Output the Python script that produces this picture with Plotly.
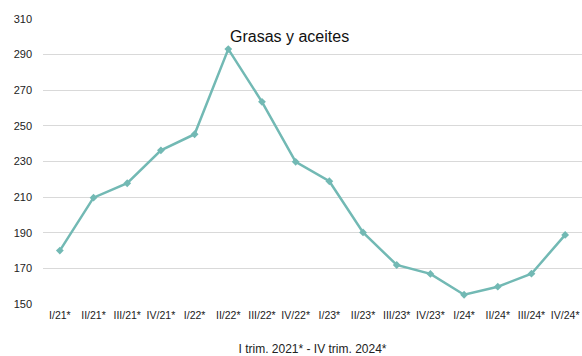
import plotly.graph_objects as go

categories = ["I/21*", "II/21*", "III/21*", "IV/21*", "I/22*", "II/22*", "III/22*", "IV/22*",
              "I/23*", "II/23*", "III/23*", "IV/23*", "I/24*", "II/24*", "III/24*", "IV/24*"]
values = [180.0, 209.7, 217.8, 236.3, 245.3, 293.1, 263.5, 229.8,
          218.9, 190.2, 171.9, 166.9, 155.2, 159.7, 167.0, 188.8]
y_ticks = [150, 170, 190, 210, 230, 250, 270, 290, 310]
chart_title = "Grasas y aceites"
x_title = "I trim. 2021* - IV trim. 2024*"

fig = go.Figure()
fig.add_trace(go.Scatter(
    x=categories, y=values, mode="lines+markers",
    line=dict(color="#72b9b4", width=2.5),
    marker=dict(symbol="diamond", size=6, color="#72b9b4"),
    showlegend=False, hoverinfo="x+y",
))

fig.update_layout(
    width=582, height=356,
    margin=dict(l=43, r=0, t=19, b=52, autoexpand=False),
    paper_bgcolor="white", plot_bgcolor="white",
    font=dict(family="Liberation Sans, Arial, sans-serif", color="#222222", size=11),
    annotations=[dict(
        text=chart_title, xref="paper", yref="paper", x=0.458, y=0.94,
        xanchor="center", yanchor="middle", showarrow=False,
        font=dict(size=16, color="#111111"),
    )],
)
fig.update_xaxes(
    type="category", showgrid=False, showline=False, zeroline=False, automargin=False,
    ticks="", tickfont=dict(size=10.5, color="#222222"), ticklabelstandoff=3,
    title=dict(text=x_title, font=dict(size=12, color="#222222"), standoff=26),
    range=[-0.5, len(categories) - 0.5],
)
fig.update_yaxes(
    range=[150, 310], tickvals=y_ticks, showgrid=True, gridcolor="#d9d9d9", gridwidth=1,
    zeroline=False, showline=False, ticks="", ticklabelstandoff=10, automargin=False,
    tickfont=dict(size=11, color="#222222"),
)

fig.write_html(
    "out.html",
    config={"displayModeBar": False},
    post_script="document.body.style.margin='0';document.body.style.overflow='hidden';",
)
